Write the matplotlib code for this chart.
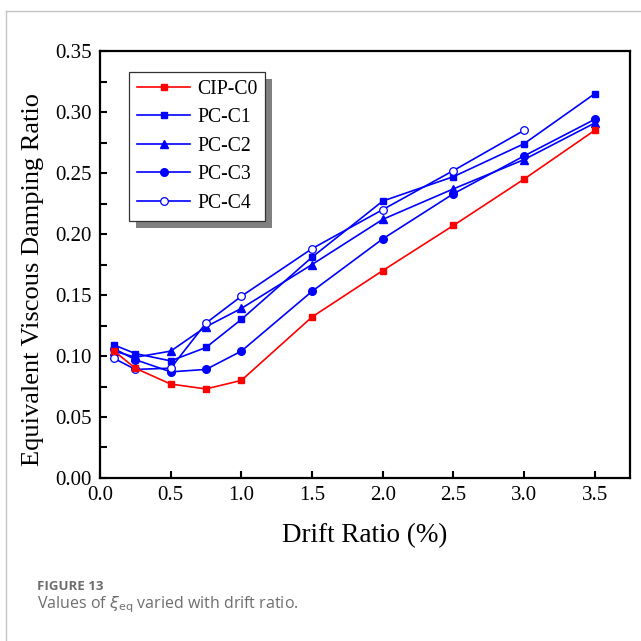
import matplotlib
matplotlib.use("Agg")
import matplotlib.pyplot as plt
from matplotlib.patches import Rectangle
from matplotlib.lines import Line2D
from matplotlib.transforms import IdentityTransform
from matplotlib.ticker import MultipleLocator

drift = [0.1, 0.25, 0.5, 0.75, 1.0, 1.5, 2.0, 2.5, 3.0, 3.5]
cip_c0 = [0.104, 0.090, 0.077, 0.073, 0.080, 0.132, 0.170, 0.207, 0.245, 0.285]
pc_c1 = [0.109, 0.102, 0.096, 0.107, 0.130, 0.181, 0.227, 0.247, 0.274, 0.315]
pc_c2 = [0.104, 0.099, 0.104, 0.124, 0.139, 0.175, 0.212, 0.237, 0.261, 0.291]
pc_c3 = [0.106, 0.097, 0.087, 0.089, 0.104, 0.153, 0.196, 0.233, 0.264, 0.294]
drift_c4 = [0.1, 0.25, 0.5, 0.75, 1.0, 1.5, 2.0, 2.5, 3.0]
pc_c4 = [0.098, 0.089, 0.090, 0.127, 0.149, 0.188, 0.220, 0.252, 0.285]

names = ["CIP-C0", "PC-C1", "PC-C2", "PC-C3", "PC-C4"]

serif = ["Liberation Serif", "DejaVu Serif"]

fig = plt.figure(figsize=(6.41, 6.41), dpi=100)
ax = fig.add_axes([0.156, 0.2543, 0.827, 0.6661])
ax.patch.set_visible(False)

blue = "#0000ff"
red = "#ff0000"
ms = 5
lw = 1.2
ax.plot(drift, cip_c0, color=red, lw=lw, marker="s", ms=ms, label=names[0], zorder=3)
ax.plot(drift, pc_c1, color=blue, lw=lw, marker="s", ms=ms, label=names[1])
ax.plot(drift, pc_c2, color=blue, lw=lw, marker="^", ms=ms + 1, label=names[2])
ax.plot(drift, pc_c3, color=blue, lw=lw, marker="o", ms=ms + 0.5, label=names[3])
ax.plot(drift_c4, pc_c4, color=blue, lw=lw, marker="o", ms=ms + 0.5,
        mfc="white", mec=blue, mew=0.9, label=names[4])

ax.set_xlim(0, 3.75)
ax.set_ylim(0, 0.35)
ax.yaxis.set_major_locator(MultipleLocator(0.05))
ax.yaxis.set_minor_locator(MultipleLocator(0.025))
ax.set_xticks([0, 0.5, 1.0, 1.5, 2.0, 2.5, 3.0, 3.5])
ax.set_xticklabels(["0.0", "0.5", "1.0", "1.5", "2.0", "2.5", "3.0", "3.5"])
ax.set_yticklabels([f"{v:.2f}" for v in ax.get_yticks()])
ax.tick_params(which="both", direction="in", width=1.5, length=5, labelsize=15,
               pad=6, top=False, right=False)
for lab in ax.get_xticklabels() + ax.get_yticklabels():
    lab.set_family(serif)
for sp in ax.spines.values():
    sp.set_linewidth(1.6)

ax.set_xlabel("Drift Ratio (%)", fontsize=19.5, family=serif, labelpad=13)
ax.set_ylabel("Equivalent Viscous Damping Ratio", fontsize=19, family=serif)
ax.yaxis.set_label_coords(-0.106, 0.464)

leg = ax.legend(loc="upper left", bbox_to_anchor=(0.0547, 0.951), borderaxespad=0,
                fancybox=False, framealpha=1, edgecolor="#333333",
                prop={"family": serif, "size": 14.2}, handlelength=2.7,
                labelspacing=0.48, borderpad=0.4, handletextpad=0.35)
leg.get_frame().set_linewidth(0.9)
leg.set_zorder(6)

fig.canvas.draw()
bb = leg.get_window_extent()
ax.add_patch(Rectangle((bb.x0 + 7, bb.y0 - 7), bb.width, bb.height,
                       transform=IdentityTransform(), facecolor="#808080",
                       edgecolor="none", zorder=5.5, clip_on=False))
ax.set_xlim(0, 3.75)
ax.set_ylim(0, 0.35)

# outer frame lines
fig.add_artist(Line2D([6 / 641, 1], [1 - 11 / 641, 1 - 11 / 641], color="#c4c4c4", lw=1))
fig.add_artist(Line2D([6 / 641, 6 / 641], [0, 1 - 11 / 641], color="#c4c4c4", lw=1))

fig.text(37 / 641, 1 - 590 / 641, "FIGURE 13", fontsize=9.5, weight="bold",
         color="#6e6e6e", family="Open Sans")
fig.text(37 / 641, 1 - 608 / 641, r"Values of $\xi_{\mathrm{eq}}$ varied with drift ratio.",
         fontsize=11.5, color="#6e6e6e", family="Open Sans")

fig.savefig("out.png", dpi=100)
